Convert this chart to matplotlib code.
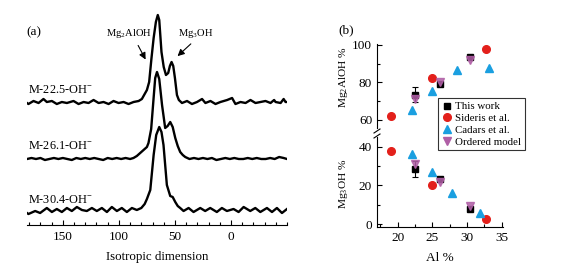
import matplotlib
matplotlib.use("Agg")
import matplotlib.pyplot as plt
from matplotlib.ticker import MultipleLocator
from matplotlib.lines import Line2D

plt.rcParams['font.family'] = ['Liberation Serif', 'DejaVu Serif']
plt.rcParams['mathtext.fontset'] = 'custom'
plt.rcParams['mathtext.rm'] = 'Liberation Serif'
plt.rcParams['mathtext.it'] = 'Liberation Serif:italic'

# ---------------- Panel (a): NMR spectra (ppm, intensity) ----------------
ppm_top = [182, 180.7, 176.2, 171.7, 167.3, 164.3, 159.8, 155.4, 150.9, 146.4, 140.5, 136, 131.5,
           127.1, 122.6, 118.1, 113.7, 109.2, 104.8, 100.3, 95.8, 91.4, 86.9, 82.4, 79.5, 77, 75,
           73, 71, 69, 67, 65.3, 64, 62, 60, 58, 56, 54.5, 53, 51.5, 50, 48.2, 46.5, 43.7, 39.2,
           34.8, 30.3, 25.8, 22.8, 18.3, 13.8, 9.4, 3.4, -1, -4, -8.5, -13, -17.4, -21.9, -26.4,
           -30.8, -35.3, -38.5, -39.8, -44.3, -47, -48.7, -50]
int_top = [0, -1, 2, 0, 4, 1, 2, -1, 1, 0, 2, -1, 1,
           0, 3, 0, 1, -1, 2, 0, 1, -1, 1, 2, 4, 9, 13,
           21, 44, 65, 81, 88, 83, 51, 36, 28, 30, 37, 41, 37, 25, 8, 3, 0, 2,
           -1, 1, 4, 0, 2, -1, 1, 3, 5, -1, 1, 0, 3, 0, 1,
           2, 0, 3, 1, 0, 4, 1, 1]

ppm_mid = [182, 178, 174, 170, 166, 162, 158, 154, 150, 146, 142, 138, 134, 130, 126, 122, 118, 114,
           110, 106, 102, 98, 94, 90, 87, 84, 80, 77, 75, 73.6, 71.2, 69.1, 67.6, 66, 64, 61.5,
           58.7, 56.5, 54.2, 52, 49.7, 47.5, 45.3, 43, 40.8, 37, 33, 29, 25, 21, 17, 13, 9, 5, 1,
           -3, -7, -11, -15, -19, -23, -27, -31, -35, -39, -43, -47, -50]
int_mid = [0, 1, 0, 1, -1, 0, 1, 0, 1, 0, -1, 1, 0, 1, 0, 1, 0, -1,
           1, 0, 1, 0, 1, 0, 1, 3, 7, 10, 12, 16, 30, 60, 81, 87, 80, 54,
           31, 33, 37, 32, 21, 13, 7, 4, 2, 0, 1, 0, 1, 0, 1, -1, 0, 1, 0,
           1, 0, 0, 1, 0, 1, 0, 0, 1, 0, 2, 1, 0]

ppm_bot = [182, 180.7, 174.7, 170.3, 164.3, 159.8, 155.4, 150.9, 146.4, 142, 137.5, 133, 128.6,
           124.1, 119.7, 115.2, 110.7, 106.3, 101.8, 97.4, 92.9, 88.4, 84, 80, 77, 75, 72, 69,
           66.7, 64, 62, 60.2, 57.2, 54.2, 52, 49.7, 47.5, 45.3, 42.3, 37.8, 33.4, 27.4, 23,
           18.5, 12.6, 8.1, 3.6, -2.3, -6.8, -11.3, -17.2, -21.7, -26.2, -32.1, -36.6, -41,
           -45.5, -50]
int_bot = [-1, -2, 1, -1, 4, 0, 3, 0, 4, 1, 5, 2, 1,
           4, 1, 4, 0, 5, 1, 4, 0, 4, 2, 4, 8, 13, 22, 57,
           77, 85, 80, 67, 27, 16, 15, 10, 6, 4, 1, 4, 0, 4, 1,
           4, 0, 4, 1, 3, 0, 5, 1, 4, 0, 4, 0, 4,
           -1, 3]

offsets = [122, 66, 13]
sample_labels = ['M-22.5-OH$^{-}$', 'M-26.1-OH$^{-}$', 'M-30.4-OH$^{-}$']

# ---------------- Panel (b): populations vs Al % ----------------
tw_x = [22.5, 26.1, 30.4]
tw_up = [73.5, 79.0, 93.6]
tw_up_err = [4.0, 1.0, 1.0]
tw_lo = [28.5, 23.4, 8.0]
tw_lo_err = [4.0, 1.0, 1.0]

sid_x = [19.0, 25.0, 32.8]
sid_up = [62.3, 82.5, 97.8]
sid_lo = [38.0, 20.0, 2.8]

cad_up_x = [22.1, 25.0, 28.6, 33.2]
cad_up = [65.4, 75.5, 86.8, 87.5]
cad_lo_x = [22.0, 25.0, 27.9, 31.9]
cad_lo = [36.3, 26.9, 16.0, 5.9]

ord_x = [22.5, 26.1, 30.4]
ord_up = [71.3, 80.3, 91.8]
ord_lo = [31.0, 21.8, 9.6]

W, H = 571, 276
fig = plt.figure(figsize=(W / 100, H / 100), dpi=100)

def fx(x):
    return x / W

def fy(y):
    return 1 - y / H

# ----- Panel (a)
axa = fig.add_axes([fx(27), fy(225), (287 - 27) / W, (225 - 10) / H])
axa.set_xlim(182, -50)
axa.set_ylim(0, 215)
for p, v, off in zip([ppm_top, ppm_mid, ppm_bot], [int_top, int_mid, int_bot], offsets):
    axa.plot(p, [off + t for t in v], color='black', lw=1.7, solid_joinstyle='round')
for spine in ['top', 'right', 'left']:
    axa.spines[spine].set_visible(False)
axa.spines['bottom'].set_linewidth(0.8)
axa.set_yticks([])
axa.xaxis.set_major_locator(MultipleLocator(50))
axa.xaxis.set_minor_locator(MultipleLocator(10))
axa.tick_params(axis='x', which='major', direction='in', length=3.5, width=0.8, labelsize=9.5, pad=4)
axa.tick_params(axis='x', which='minor', direction='in', length=2.2, width=0.8)
axa.set_xticks([150, 100, 50, 0])
axa.set_xlabel('Isotropic dimension', fontsize=9.3, labelpad=6)

fig.text(fx(26), fy(32), '(a)', fontsize=9.5, ha='left', va='center')
fig.text(fx(129), fy(33), 'Mg$_2$AlOH', fontsize=7.6, ha='center', va='center')
fig.text(fx(196), fy(33), 'Mg$_3$OH', fontsize=7.6, ha='center', va='center')
axa.annotate('', xy=(75, 163), xytext=(84, 182),
             arrowprops=dict(arrowstyle='-|>', color='black', lw=0.8, mutation_scale=10))
axa.annotate('', xy=(49.5, 167), xytext=(34, 183),
             arrowprops=dict(arrowstyle='-|>', color='black', lw=0.8, mutation_scale=10))
for lab, yy in zip(sample_labels, [90, 146, 200]):
    fig.text(fx(28), fy(yy), lab, fontsize=8.8, ha='left', va='center')

# ----- Panel (b)
red = '#e3201b'
blue = '#1a9fe0'
purple = '#b05fa6'
axu = fig.add_axes([fx(377), fy(128), (503 - 377) / W, (128 - 44) / H])
axl = fig.add_axes([fx(377), fy(227), (503 - 377) / W, (227 - 137) / H])
for ax in (axu, axl):
    ax.set_xlim(17, 35.2)
    ax.spines['top'].set_visible(False)
    ax.spines['right'].set_visible(False)
    ax.spines['left'].set_linewidth(0.8)
    ax.spines['bottom'].set_linewidth(0.8)
    ax.yaxis.set_major_locator(MultipleLocator(20))
    ax.yaxis.set_minor_locator(MultipleLocator(10))
    ax.xaxis.set_major_locator(MultipleLocator(5))
    ax.xaxis.set_minor_locator(MultipleLocator(2.5))
    ax.tick_params(which='major', direction='in', length=3.5, width=0.8, labelsize=9.5)
    ax.tick_params(which='minor', direction='in', length=2.2, width=0.8)
axu.set_ylim(55.7, 100.5)
axu.spines['bottom'].set_visible(False)
axu.tick_params(axis='x', which='both', bottom=False, labelbottom=False)
axl.set_ylim(-1.4, 45)

ms_sq, ms_c, ms_t = 5.0, 5.5, 6.0
axu.errorbar(tw_x, tw_up, yerr=tw_up_err, fmt='s', color='black', ms=ms_sq, capsize=2,
             elinewidth=0.8, capthick=0.8, zorder=3)
axu.plot(sid_x, sid_up, 'o', color=red, ms=ms_c, zorder=3)
axu.plot(cad_up_x, cad_up, '^', color=blue, ms=ms_t, zorder=3)
axu.plot(ord_x, ord_up, 'v', color=purple, ms=ms_t, alpha=0.85, zorder=4)

axl.errorbar(tw_x, tw_lo, yerr=tw_lo_err, fmt='s', color='black', ms=ms_sq, capsize=2,
             elinewidth=0.8, capthick=0.8, zorder=3)
axl.plot(sid_x, sid_lo, 'o', color=red, ms=ms_c, zorder=3)
axl.plot(cad_lo_x, cad_lo, '^', color=blue, ms=ms_t, zorder=3)
axl.plot(ord_x, ord_lo, 'v', color=purple, ms=ms_t, alpha=0.85, zorder=4)

# break marks on the y axis
for yb in (131, 136):
    fig.add_artist(Line2D([fx(374), fx(380)], [fy(yb + 2), fy(yb - 2)], color='black', lw=0.8))

fig.text(fx(338), fy(30), '(b)', fontsize=9.5, ha='left', va='center')
fig.text(fx(343), fy(77), 'Mg$_2$AlOH %', fontsize=8.2, rotation=90, ha='center', va='center')
fig.text(fx(343), fy(184), 'Mg$_3$OH %', fontsize=8.2, rotation=90, ha='center', va='center')
axl.set_xlabel('Al %', fontsize=9.5, labelpad=6)

handles = [
    Line2D([], [], marker='s', color='black', ls='none', ms=ms_sq),
    Line2D([], [], marker='o', color=red, ls='none', ms=ms_c),
    Line2D([], [], marker='^', color=blue, ls='none', ms=ms_t),
    Line2D([], [], marker='v', color=purple, ls='none', ms=ms_t),
]
labels = ['This work', 'Sideris et al.', 'Cadars et al.', 'Ordered model']
leg = fig.legend(handles, labels, loc='upper left', bbox_to_anchor=(fx(438), fy(98)),
                 fontsize=7.8, frameon=True, fancybox=False, edgecolor='black',
                 borderpad=0.35, labelspacing=0.2, handletextpad=0.3, handlelength=0.9,
                 borderaxespad=0)
leg.get_frame().set_linewidth(0.8)

fig.savefig('out.png', dpi=100)
